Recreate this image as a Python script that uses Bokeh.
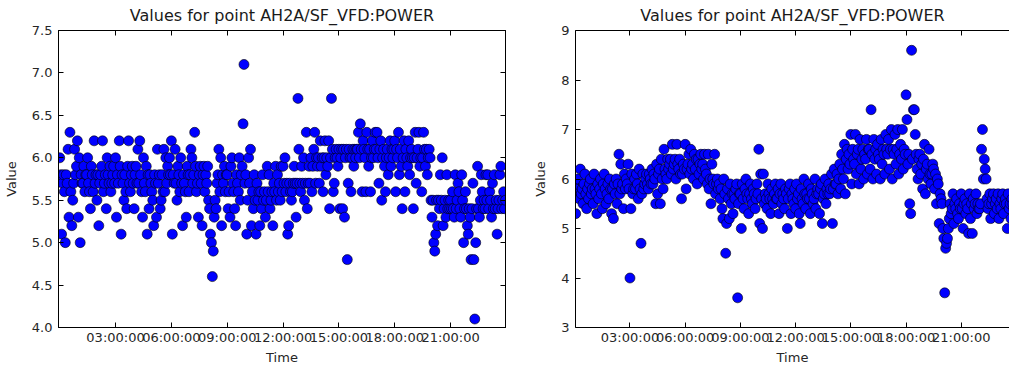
from datetime import datetime, timedelta

from bokeh.plotting import figure
from bokeh.layouts import row
from bokeh.models import (Range1d, FixedTicker, DatetimeTickFormatter, LinearAxis,
                          DatetimeAxis, PrintfTickFormatter, ColumnDataSource,
                          CustomLabelingPolicy)
from bokeh.embed import file_html
from bokeh.resources import INLINE

TITLE = "Values for point AH2A/SF_VFD:POWER"
DAY = datetime(2016, 1, 1)
STEP_MIN = 3  # one reading every 3 minutes, 00:00 .. 23:57

# ---- left panel readings (20 per hour) ----
left_values = [
    6.0, 5.8, 5.1, 5.7, 5.8, 5.6, 5.0, 5.8, 5.7, 6.1, 5.3, 6.3, 5.6, 5.2, 5.5, 5.7, 6.1, 5.8, 5.9, 6.2,  # 00h
    5.3, 6.0, 5.0, 5.8, 5.7, 5.7, 5.9, 5.6, 5.8, 5.8, 6.0, 5.7, 5.6, 5.4, 5.9, 5.8, 5.6, 6.2, 5.7, 5.8,  # 01h
    5.5, 5.8, 5.2, 5.7, 5.8, 5.9, 6.2, 5.6, 5.7, 5.8, 5.4, 6.0, 5.8, 5.7, 5.9, 5.6, 5.7, 5.8, 5.9, 5.7,  # 02h
    6.0, 5.3, 5.8, 5.7, 6.2, 5.9, 5.1, 5.8, 5.7, 5.5, 5.8, 5.6, 5.4, 5.9, 6.2, 5.7, 5.6, 5.8, 5.9, 5.7,  # 03h
    5.4, 5.8, 5.9, 5.7, 6.1, 5.7, 6.2, 5.8, 5.6, 5.3, 6.0, 5.7, 5.6, 5.9, 5.1, 5.8, 5.4, 5.8, 5.7, 5.6,  # 04h
    5.5, 5.2, 5.8, 5.7, 5.3, 6.1, 5.7, 5.8, 5.4, 5.5, 5.8, 5.6, 6.1, 5.6, 6.0, 5.7, 5.9, 5.8, 6.0, 5.8,  # 05h
    6.2, 5.1, 5.8, 5.7, 6.1, 5.7, 5.5, 5.9, 5.8, 5.6, 6.0, 5.7, 5.2, 5.8, 5.7, 5.6, 5.3, 5.9, 5.8, 5.6,  # 06h
    5.8, 6.1, 6.0, 5.7, 5.8, 6.3, 5.9, 5.6, 5.7, 5.3, 5.8, 5.9, 5.7, 5.2, 5.8, 5.9, 5.6, 5.8, 5.7, 5.9,  # 07h
    5.5, 5.4, 5.1, 5.0, 4.6, 4.9, 5.3, 5.5, 5.4, 5.7, 5.8, 6.1, 5.6, 6.0, 5.2, 5.8, 5.7, 5.9, 5.6, 5.8,  # 08h
    5.8, 5.4, 5.6, 5.3, 5.9, 6.0, 5.7, 5.6, 5.4, 5.2, 5.8, 5.7, 5.6, 6.0, 5.5, 5.8, 5.9, 6.4, 7.1, 5.7,  # 09h
    5.8, 5.1, 5.5, 6.0, 5.7, 6.1, 5.2, 5.6, 5.4, 5.8, 5.5, 5.1, 5.7, 5.5, 5.6, 5.2, 5.6, 5.4, 5.8, 5.5,  # 10h
    5.6, 5.3, 5.5, 5.9, 5.6, 5.8, 5.4, 5.5, 5.6, 5.2, 5.7, 5.6, 5.9, 5.5, 5.8, 5.6, 5.7, 5.5, 5.9, 5.6,  # 11h
    5.9, 5.7, 6.0, 5.6, 5.7, 5.1, 5.2, 5.7, 5.6, 5.5, 5.6, 5.7, 5.9, 5.7, 5.3, 5.7, 6.7, 6.1, 5.7, 5.6,  # 12h
    5.9, 5.7, 6.0, 5.5, 5.7, 6.3, 5.4, 5.7, 5.9, 5.7, 6.0, 5.6, 5.9, 6.1, 6.3, 5.7, 6.0, 5.9, 6.0, 5.7,  # 13h
    6.2, 5.9, 6.0, 5.6, 6.0, 6.2, 5.8, 6.0, 5.9, 6.2, 5.4, 6.0, 6.7, 6.1, 5.6, 5.7, 6.0, 6.1, 6.0, 5.9,  # 14h
    6.1, 5.4, 6.0, 6.1, 5.4, 6.1, 5.3, 6.0, 6.1, 4.8, 5.7, 6.1, 6.0, 5.6, 6.0, 6.1, 5.9, 6.1, 6.0, 6.1,  # 15h
    6.1, 6.3, 6.0, 6.4, 6.1, 5.6, 6.2, 6.1, 6.0, 5.6, 6.3, 6.1, 5.9, 6.1, 5.6, 6.0, 6.2, 6.0, 6.1, 6.3,  # 16h
    6.1, 6.3, 6.0, 5.7, 6.1, 6.2, 5.5, 6.0, 6.1, 5.9, 5.6, 6.0, 6.1, 5.8, 6.0, 6.2, 5.9, 6.1, 6.0, 6.1,  # 17h
    6.2, 5.6, 6.1, 6.0, 6.3, 5.8, 6.1, 5.9, 5.4, 6.0, 6.2, 5.6, 6.1, 6.0, 5.9, 6.2, 5.8, 6.0, 6.1, 6.0,  # 18h
    5.4, 6.0, 6.3, 5.7, 6.0, 6.1, 6.3, 5.9, 6.0, 5.6, 6.0, 6.3, 6.1, 5.9, 6.1, 5.8, 6.0, 6.1, 6.0, 5.5,  # 19h
    5.3, 5.5, 5.0, 4.9, 5.1, 5.5, 5.2, 5.5, 5.4, 5.8, 5.5, 6.0, 5.2, 5.4, 5.5, 5.3, 5.8, 5.4, 5.5, 5.4,  # 20h
    5.5, 5.4, 5.6, 5.4, 5.3, 5.8, 5.4, 5.5, 5.7, 5.6, 5.4, 5.3, 5.8, 5.5, 5.0, 5.4, 5.6, 5.4, 5.2, 5.1,  # 21h
    5.4, 5.3, 4.8, 5.4, 5.7, 4.8, 4.1, 5.0, 5.4, 5.9, 5.4, 5.3, 5.5, 5.8, 5.6, 5.4, 5.5, 5.4, 5.8, 5.5,  # 22h
    5.8, 5.4, 5.6, 5.5, 5.3, 5.7, 5.4, 5.8, 5.4, 5.5, 5.1, 5.4, 5.5, 5.8, 5.9, 5.4, 5.5, 5.6, 5.4, 5.5,  # 23h
]

# ---- right panel readings (20 per hour) ----
right_values = [
    5.9, 5.3, 5.8, 6.0, 5.7, 5.6, 6.2, 5.7, 5.8, 5.5, 5.9, 6.1, 5.7, 5.4, 5.8, 5.6, 5.9, 6.0, 5.7, 5.8,  # 00h
    5.5, 6.1, 5.8, 5.7, 5.3, 5.9, 5.6, 5.8, 6.0, 5.7, 5.4, 5.9, 6.1, 5.8, 5.5, 5.7, 5.9, 5.6, 6.0, 5.8,  # 01h
    5.3, 5.8, 5.2, 5.9, 5.7, 6.0, 5.5, 5.9, 6.5, 5.7, 6.3, 5.8, 5.9, 5.4, 6.1, 5.8, 6.0, 5.9, 6.3, 5.8,  # 02h
    4.0, 5.4, 6.1, 5.7, 5.8, 6.0, 5.8, 6.1, 5.9, 5.6, 6.2, 5.8, 4.7, 5.7, 6.1, 5.8, 5.9, 6.0, 6.1, 5.9,  # 03h
    5.8, 6.1, 6.0, 5.9, 6.2, 5.9, 6.1, 6.0, 5.5, 6.3, 5.7, 6.1, 6.2, 5.5, 6.4, 6.0, 5.8, 6.6, 6.2, 6.1,  # 04h
    6.0, 6.4, 6.2, 6.3, 6.4, 6.1, 6.7, 6.2, 6.3, 6.4, 6.0, 6.7, 6.3, 6.2, 6.4, 6.1, 5.6, 6.1, 6.3, 6.2,  # 05h
    6.7, 5.8, 6.2, 6.3, 6.5, 6.1, 6.6, 6.2, 6.3, 6.0, 6.5, 6.2, 6.4, 5.9, 6.4, 6.1, 6.3, 6.5, 6.2, 6.3,  # 06h
    6.0, 6.5, 6.2, 6.1, 5.9, 6.5, 5.8, 6.0, 5.5, 6.3, 6.0, 5.9, 6.5, 5.7, 5.9, 6.0, 5.8, 5.9, 5.6, 5.8,  # 07h
    5.4, 5.2, 6.0, 5.7, 4.5, 5.1, 5.8, 5.6, 5.2, 5.9, 5.5, 5.7, 5.3, 5.7, 5.6, 5.8, 5.9, 3.6, 5.5, 5.7,  # 08h
    5.7, 5.0, 5.9, 5.6, 5.4, 5.8, 6.0, 5.7, 5.6, 5.3, 5.7, 5.9, 5.6, 5.5, 5.8, 5.7, 5.4, 5.6, 5.9, 5.7,  # 09h
    6.6, 5.1, 6.1, 5.6, 5.0, 6.1, 5.5, 5.7, 5.6, 5.4, 5.9, 5.7, 5.6, 5.3, 5.8, 5.6, 5.5, 5.7, 5.9, 5.6,  # 10h
    5.6, 5.8, 5.3, 5.7, 5.9, 5.5, 5.7, 5.6, 5.4, 5.8, 5.7, 5.0, 5.6, 5.8, 5.9, 5.3, 5.7, 5.6, 5.5, 5.8,  # 11h
    5.4, 5.9, 5.6, 5.7, 5.3, 5.1, 5.8, 5.6, 5.5, 6.0, 5.7, 5.4, 5.7, 5.6, 5.9, 5.6, 5.3, 5.8, 5.7, 5.5,  # 12h
    5.6, 6.0, 5.4, 5.7, 5.8, 5.7, 5.3, 5.8, 5.9, 5.1, 5.6, 5.7, 6.0, 5.5, 5.8, 5.7, 5.9, 5.7, 5.8, 6.1,  # 13h
    5.1, 5.8, 6.2, 5.9, 5.9, 6.1, 5.7, 6.0, 6.3, 5.8, 6.5, 6.2, 6.0, 6.7, 5.7, 6.4, 6.6, 6.2, 6.5, 6.3,  # 14h
    6.9, 5.9, 6.6, 6.4, 6.3, 6.9, 6.1, 6.5, 6.6, 5.9, 6.8, 6.2, 6.4, 6.6, 6.0, 6.5, 6.4, 6.8, 6.1, 6.6,  # 15h
    6.6, 6.2, 7.4, 6.5, 6.0, 6.8, 6.4, 6.6, 6.1, 6.7, 6.5, 6.4, 6.0, 6.8, 6.3, 6.6, 6.5, 6.1, 6.9, 6.6,  # 16h
    6.5, 6.8, 6.2, 6.6, 7.0, 6.0, 6.6, 6.5, 6.9, 6.3, 6.6, 7.0, 6.1, 6.5, 6.7, 6.4, 7.0, 6.2, 6.6, 6.5,  # 17h
    7.7, 7.2, 6.3, 6.5, 5.5, 5.3, 8.6, 6.4, 7.4, 7.4, 6.9, 6.5, 6.2, 6.0, 6.4, 6.5, 6.1, 6.3, 5.8, 6.4,  # 18h
    6.7, 5.7, 6.2, 6.3, 6.0, 6.6, 6.1, 5.9, 6.1, 6.3, 6.2, 5.8, 6.1, 5.5, 6.0, 5.9, 5.1, 5.7, 5.6, 5.5,  # 19h
    5.0, 4.8, 3.7, 4.6, 4.7, 4.8, 5.0, 5.2, 5.5, 5.3, 5.4, 5.7, 5.1, 5.5, 5.4, 5.6, 5.3, 5.2, 5.5, 5.4,  # 20h
    5.7, 5.4, 5.0, 5.5, 5.6, 5.3, 5.5, 5.4, 4.9, 5.7, 5.2, 5.5, 4.9, 5.6, 5.4, 5.5, 5.7, 5.3, 5.5, 5.4,  # 21h
    5.4, 5.5, 6.6, 7.0, 6.0, 6.4, 6.2, 6.0, 5.6, 5.4, 5.5, 5.7, 5.2, 5.5, 5.6, 5.7, 5.3, 5.5, 5.6, 5.4,  # 22h
    5.7, 5.2, 5.5, 5.4, 5.6, 5.7, 5.3, 5.5, 5.6, 5.5, 5.0, 5.7, 5.4, 5.5, 5.2, 5.6, 5.5, 5.4, 5.0, 5.5,  # 23h
]

x_tick_hours = [3, 6, 9, 12, 15, 18, 21]
left_y_ticks = [4.0, 4.5, 5.0, 5.5, 6.0, 6.5, 7.0, 7.5]
right_y_ticks = [3, 4, 5, 6, 7, 8, 9]

FONT = "DejaVu Sans"
TXT = "#262626"


def style_axis(ax, labels=True):
    ax.major_tick_in = 5
    ax.major_tick_out = 0
    ax.minor_tick_in = 0
    ax.minor_tick_out = 0
    ax.axis_line_color = "black"
    ax.axis_line_width = 1
    ax.major_tick_line_color = "black"
    ax.major_label_text_font = FONT
    ax.major_label_text_color = TXT
    ax.axis_label_text_font = FONT
    ax.axis_label_text_font_style = "normal"
    ax.axis_label_text_color = TXT
    ax.axis_label_text_font_size = "13px"
    if labels:
        ax.major_label_text_font_size = "13px"
    else:
        # tick marks only: the labelling policy drops every label
        ax.major_label_text_font_size = "1px"
        ax.major_label_standoff = 0
        ax.major_label_policy = CustomLabelingPolicy(
            code="for (const i of indices) { indices.unset(i) }")


def time_formatter():
    f = "%H:%M:%S"
    return DatetimeTickFormatter(microseconds=f, milliseconds=f, seconds=f, minsec=f,
                                 minutes=f, hourmin=f, hours=f, days=f, months=f, years=f)


def make_panel(values, y_lo, y_hi, y_ticks, y_fmt, x_start_h, x_end_h,
               width, border_left, border_right, with_right_axis):
    times = [DAY + timedelta(minutes=STEP_MIN * i) for i in range(len(values))]
    src = ColumnDataSource(dict(t=times, v=values))
    tick_ms = [(DAY + timedelta(hours=h) - datetime(1970, 1, 1)).total_seconds() * 1000
               for h in x_tick_hours]

    p = figure(width=width, height=367, x_axis_type="datetime",
               output_backend="svg", toolbar_location=None,
               x_range=Range1d(DAY + timedelta(hours=x_start_h), DAY + timedelta(hours=x_end_h)),
               y_range=Range1d(y_lo, y_hi),
               min_border_left=border_left, min_border_right=border_right,
               min_border_top=30, min_border_bottom=40)
    p.background_fill_color = "white"
    p.border_fill_color = "white"
    p.grid.visible = False
    p.outline_line_color = "black" if with_right_axis else None

    p.title.text = TITLE
    p.title.text_font = FONT
    p.title.text_font_size = "16px"
    p.title.text_font_style = "normal"
    p.title.text_color = "#1a1a1a"
    p.title.align = "center"
    p.title.standoff = 3

    xt = FixedTicker(ticks=tick_ms, minor_ticks=[])
    yt = FixedTicker(ticks=y_ticks, minor_ticks=[])

    xa = p.xaxis[0]
    xa.ticker = xt
    xa.formatter = time_formatter()
    xa.axis_label = "Time"
    xa.major_label_standoff = 2
    xa.axis_label_standoff = 2
    style_axis(xa)

    ya = p.yaxis[0]
    ya.ticker = yt
    ya.formatter = PrintfTickFormatter(format=y_fmt)
    ya.axis_label = "Value"
    ya.major_label_standoff = 6
    ya.axis_label_standoff = 10
    style_axis(ya)

    top = DatetimeAxis(ticker=xt, formatter=time_formatter())
    style_axis(top, labels=False)
    p.add_layout(top, "above")

    if with_right_axis:
        ra = LinearAxis(ticker=yt)
        style_axis(ra, labels=False)
        p.add_layout(ra, "right")

    p.scatter(x="t", y="v", source=src, size=10, marker="circle",
              fill_color="#0000ff", line_color="black", line_width=0.6)
    return p


left = make_panel(left_values, 4.0, 7.5, left_y_ticks, "%.1f",
                  -0.065, 23.95, 530, 58, 25, True)
right = make_panel(right_values, 3, 9, right_y_ticks, "%d",
                   0.04, 23.62, 479, 38, 0, False)

layout = row(left, right)
open("out.html", "w").write(file_html(layout, INLINE))
